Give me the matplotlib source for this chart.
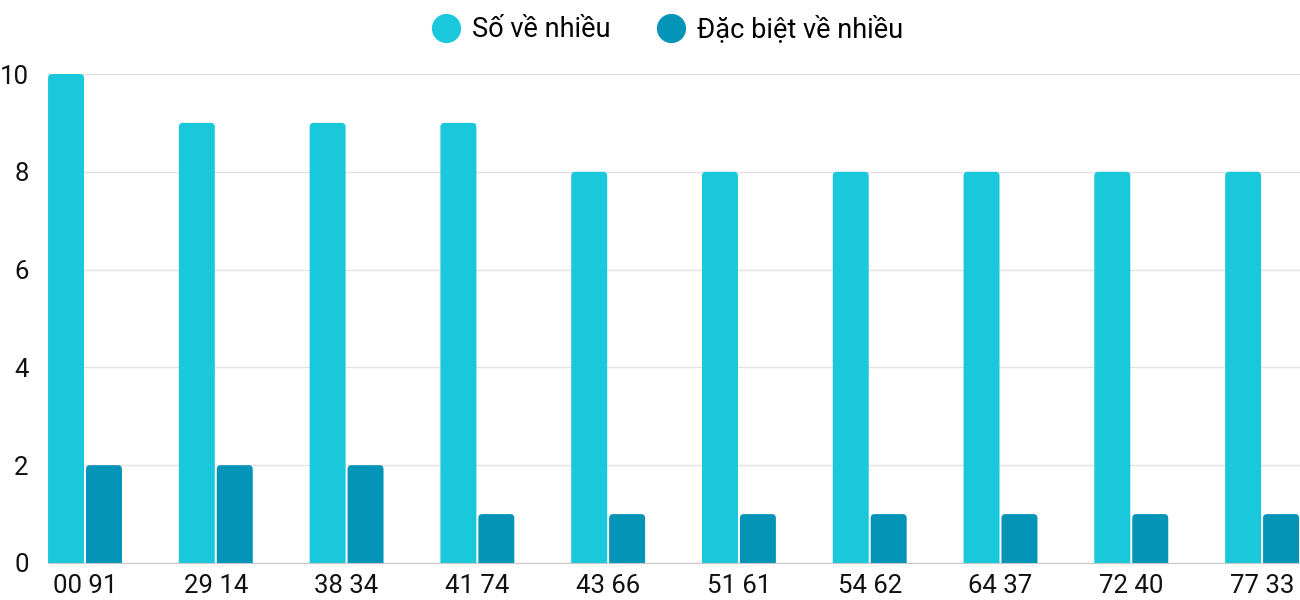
import matplotlib.pyplot as plt
import numpy as np
from matplotlib.lines import Line2D
from matplotlib.patches import FancyBboxPatch

plt.rcParams['font.family'] = ['Roboto', 'DejaVu Sans']

categories = ["00 91", "29 14", "38 34", "41 74", "43 66", "51 61", "54 62", "64 37", "72 40", "77 33"]
so_ve_nhieu = [10, 9, 9, 9, 8, 8, 8, 8, 8, 8]
dac_biet = [2, 2, 2, 1, 1, 1, 1, 1, 1, 1]
series_names = ["Số về nhiều", "Đặc biệt về nhiều"]
colors = ["#1AC8DB", "#0394B7"]

fig = plt.figure(figsize=(13, 6), dpi=100)
ax = fig.add_axes([48 / 1300, 1 - 563 / 600, 1 - 48 / 1300, (563 - 74) / 600])

x = np.arange(len(categories))
w = 0.275
b1 = ax.bar(x - 0.145, so_ve_nhieu, width=w, color=colors[0], zorder=3)
b2 = ax.bar(x + 0.145, dac_biet, width=w, color=colors[1], zorder=3)

ax.set_xlim(-0.283, len(categories) - 1 + 0.29)
ax.set_ylim(0, 10)

# round the top corners: swap each bar for a rounded box that dips below 0 (clipped)
aspect = (10 / 489) / (1 / 131)
r = 4 / 131
for bars in (b1, b2):
    for p in bars:
        px, pw, ph = p.get_x(), p.get_width(), p.get_height()
        fb = FancyBboxPatch((px, -0.3), pw, ph + 0.3,
                            boxstyle=f"round,pad=0,rounding_size={r}",
                            mutation_aspect=aspect, facecolor=p.get_facecolor(),
                            edgecolor='none', zorder=3, clip_on=True)
        ax.add_patch(fb)
        p.set_visible(False)

ax.set_yticks([0, 2, 4, 6, 8, 10])
ax.set_xticks(x)
ax.set_xticklabels(categories)
ax.grid(axis='y', color='#e3e3e3', linewidth=1, zorder=0)
for s in ['top', 'right', 'left']:
    ax.spines[s].set_visible(False)
ax.spines['bottom'].set_color('#c8c8c8')
ax.spines['bottom'].set_zorder(4)
ax.tick_params(axis='both', length=0, labelsize=18.5, colors='#111111')
ax.tick_params(axis='y', pad=14)
ax.tick_params(axis='x', pad=8)

handles = [Line2D([], [], marker='o', linestyle='none', markersize=20,
                  markerfacecolor=c, markeredgecolor=c) for c in colors]
fig.legend(handles, series_names, loc='upper center', bbox_to_anchor=(0.5135, 1.015),
           ncol=2, frameon=False, fontsize=19.5, handlelength=1.0,
           handletextpad=0.45, columnspacing=1.75)

fig.savefig("out.png", dpi=100)
